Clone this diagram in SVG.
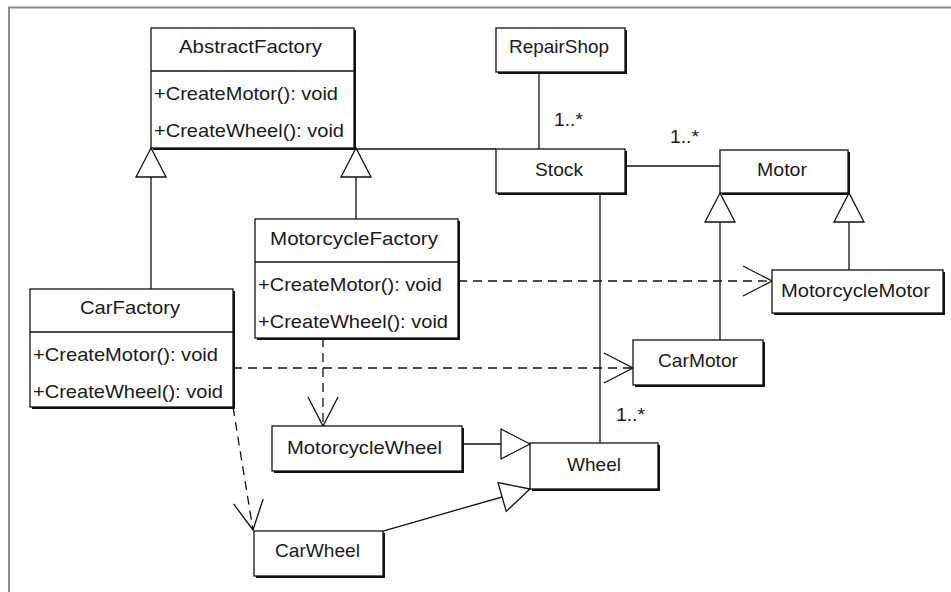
<svg xmlns="http://www.w3.org/2000/svg" width="951" height="592" viewBox="0 0 951 592">
  <style>
    .box { fill: #ffffff; stroke: #111111; stroke-width: 1.3; }
    .shadow { fill: #111111; }
    .sep { stroke: #111111; stroke-width: 1.3; }
    .lbl { font-family: "Liberation Sans", Arial, sans-serif; font-size: 19px; fill: #1a1a1a; }
    .assoc { fill: none; stroke: #111111; stroke-width: 1.3; }
    .gen { fill: none; stroke: #111111; stroke-width: 1.3; marker-end: url(#hollowTriangle); }
    .dep { fill: none; stroke: #111111; stroke-width: 1.3; stroke-dasharray: 9 6; marker-end: url(#openArrow); }
  </style>
  <defs>
    <marker id="hollowTriangle" viewBox="-31 -17 33 34" refX="0" refY="0" markerWidth="33" markerHeight="34" markerUnits="userSpaceOnUse" orient="auto">
      <path d="M0,0 L-29,-15 L-29,15 Z" fill="#ffffff" stroke="#111111" stroke-width="1.3" stroke-dasharray="none"/>
    </marker>
    <marker id="openArrow" viewBox="-31 -17 33 34" refX="0" refY="0" markerWidth="33" markerHeight="34" markerUnits="userSpaceOnUse" orient="auto">
      <path d="M-29,-15 L0,0 L-29,15" fill="none" stroke="#111111" stroke-width="1.3" stroke-dasharray="none"/>
    </marker>
  </defs>

  <rect width="951" height="592" fill="#ffffff"/>
  <!-- page frame -->
  <path d="M9,592 V7.5 H951" fill="none" stroke="#8a8a8a" stroke-width="2"/>

  <g id="connectors">
    <!-- associations -->
    <path class="assoc" d="M354,149 H496"/>
    <path class="assoc" d="M539,72 V149"/>
    <path class="assoc" d="M625,166 H720"/>
    <path class="assoc" d="M600,193 V443"/>
    <!-- generalizations -->
    <path class="gen" d="M151,289 V148"/>
    <path class="gen" d="M356,219 V148"/>
    <path class="gen" d="M720,340 V193"/>
    <path class="gen" d="M849,270 V193"/>
    <path class="gen" d="M462,444 H530"/>
    <path class="gen" d="M383,531 L530,489"/>
    <!-- dependencies -->
    <path class="dep" d="M458,281 H772"/>
    <path class="dep" d="M233,368 H633"/>
    <path class="dep" d="M323,338 V426"/>
    <path class="dep" d="M233,407 L253,530"/>
    <!-- multiplicities -->
    <text class="lbl" x="554" y="126" textLength="29" lengthAdjust="spacingAndGlyphs">1..*</text>
    <text class="lbl" x="670" y="143" textLength="29" lengthAdjust="spacingAndGlyphs">1..*</text>
    <text class="lbl" x="616" y="421" textLength="29" lengthAdjust="spacingAndGlyphs">1..*</text>
  </g>

  <g id="AbstractFactory">
    <rect class="shadow" x="153" y="30" width="203" height="120"/>
    <rect class="box" x="151" y="28" width="203" height="120"/>
    <line class="sep" x1="151" y1="71" x2="354" y2="71"/>
    <text class="lbl" x="179" y="53" textLength="143" lengthAdjust="spacingAndGlyphs">AbstractFactory</text>
    <text class="lbl" x="154" y="100" textLength="184" lengthAdjust="spacingAndGlyphs">+CreateMotor(): void</text>
    <text class="lbl" x="154" y="137" textLength="190" lengthAdjust="spacingAndGlyphs">+CreateWheel(): void</text>
  </g>

  <g id="RepairShop">
    <rect class="shadow" x="498" y="30" width="129" height="44"/>
    <rect class="box" x="496" y="28" width="129" height="44"/>
    <text class="lbl" x="509" y="53" textLength="100" lengthAdjust="spacingAndGlyphs">RepairShop</text>
  </g>

  <g id="Stock">
    <rect class="shadow" x="498" y="151" width="129" height="44"/>
    <rect class="box" x="496" y="149" width="129" height="44"/>
    <text class="lbl" x="535" y="176" textLength="48" lengthAdjust="spacingAndGlyphs">Stock</text>
  </g>

  <g id="Motor">
    <rect class="shadow" x="722" y="152" width="128" height="43"/>
    <rect class="box" x="720" y="150" width="128" height="43"/>
    <text class="lbl" x="757" y="176" textLength="50" lengthAdjust="spacingAndGlyphs">Motor</text>
  </g>

  <g id="MotorcycleFactory">
    <rect class="shadow" x="257" y="221" width="203" height="119"/>
    <rect class="box" x="255" y="219" width="203" height="119"/>
    <line class="sep" x1="255" y1="262" x2="458" y2="262"/>
    <text class="lbl" x="270" y="245" textLength="168" lengthAdjust="spacingAndGlyphs">MotorcycleFactory</text>
    <text class="lbl" x="258" y="291" textLength="184" lengthAdjust="spacingAndGlyphs">+CreateMotor(): void</text>
    <text class="lbl" x="258" y="328" textLength="190" lengthAdjust="spacingAndGlyphs">+CreateWheel(): void</text>
  </g>

  <g id="MotorcycleMotor">
    <rect class="shadow" x="774" y="272" width="171" height="43"/>
    <rect class="box" x="772" y="270" width="171" height="43"/>
    <text class="lbl" x="781" y="297" textLength="149" lengthAdjust="spacingAndGlyphs">MotorcycleMotor</text>
  </g>

  <g id="CarFactory">
    <rect class="shadow" x="32" y="291" width="203" height="118"/>
    <rect class="box" x="30" y="289" width="203" height="118"/>
    <line class="sep" x1="30" y1="332" x2="233" y2="332"/>
    <text class="lbl" x="80" y="314" textLength="100" lengthAdjust="spacingAndGlyphs">CarFactory</text>
    <text class="lbl" x="33" y="361" textLength="185" lengthAdjust="spacingAndGlyphs">+CreateMotor(): void</text>
    <text class="lbl" x="33" y="398" textLength="190" lengthAdjust="spacingAndGlyphs">+CreateWheel(): void</text>
  </g>

  <g id="CarMotor">
    <rect class="shadow" x="635" y="342" width="130" height="45"/>
    <rect class="box" x="633" y="340" width="130" height="45"/>
    <text class="lbl" x="658" y="367" textLength="80" lengthAdjust="spacingAndGlyphs">CarMotor</text>
  </g>

  <g id="MotorcycleWheel">
    <rect class="shadow" x="274" y="428" width="190" height="45"/>
    <rect class="box" x="272" y="426" width="190" height="45"/>
    <text class="lbl" x="287" y="454" textLength="155" lengthAdjust="spacingAndGlyphs">MotorcycleWheel</text>
  </g>

  <g id="Wheel">
    <rect class="shadow" x="532" y="445" width="128" height="46"/>
    <rect class="box" x="530" y="443" width="128" height="46"/>
    <text class="lbl" x="567" y="471" textLength="54" lengthAdjust="spacingAndGlyphs">Wheel</text>
  </g>

  <g id="CarWheel">
    <rect class="shadow" x="256" y="533" width="129" height="45"/>
    <rect class="box" x="254" y="531" width="129" height="45"/>
    <text class="lbl" x="275" y="557" textLength="85" lengthAdjust="spacingAndGlyphs">CarWheel</text>
  </g>
</svg>
